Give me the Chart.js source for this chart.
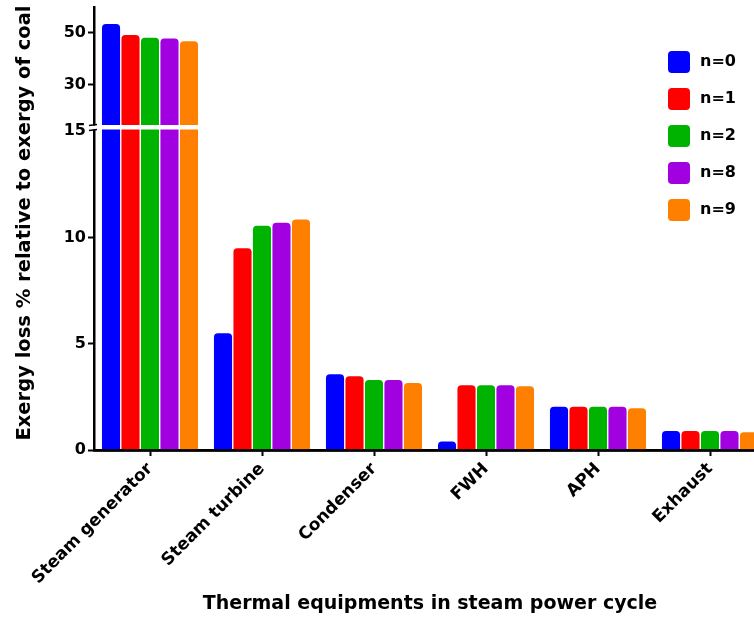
<!DOCTYPE html>
<html><head><meta charset="utf-8">
<script src="https://cdn.jsdelivr.net/npm/chart.js@4.4.1/dist/chart.umd.min.js"></script>
<style>
html,body{margin:0;padding:0;background:#fff;overflow:hidden;width:754px;height:621px}
#wrap{position:absolute;left:0;top:0;width:770px;height:621px}
</style>
</head><body><div id="wrap"><canvas id="c" width="770" height="621"></canvas></div>
<script>
// ---- data ----
const categories = ['Steam generator', 'Steam turbine', 'Condenser', 'FWH', 'APH', 'Exhaust'];
const seriesLabels = ['n=0', 'n=1', 'n=2', 'n=8', 'n=9'];
const n0 = [53.5, 5.5, 3.56, 0.4, 2.03, 0.89];
const n1 = [49.2, 9.5, 3.47, 3.05, 2.03, 0.89];
const n2 = [48.2, 10.55, 3.3, 3.05, 2.03, 0.89];
const n8 = [47.9, 10.7, 3.3, 3.05, 2.03, 0.89];
const n9 = [46.8, 10.85, 3.15, 3.0, 1.97, 0.83];
const seriesColors = ['#0000ff', '#ff0000', '#00b300', '#a100e0', '#ff8000'];
const lowerTicks = [0, 5, 10, 15];
const upperTicks = [30, 50];
const yTitle = 'Exergy loss % relative to exergy of coal';
const xTitle = 'Thermal equipments in steam power cycle';

// ---- broken-axis segment limits ----
const LOW_MAX = 15.18, UP_MIN = 13.65, UP_MAX = 60;
const FONT = '"DejaVu Sans", sans-serif';
const R = 4;

const seriesData = [n0, n1, n2, n8, n9];
const datasets = [];
seriesData.forEach((vals, i) => {
  const common = {
    stack: 's' + i,
    backgroundColor: seriesColors[i],
    borderWidth: 0,
    categoryPercentage: 0.87,
    barPercentage: 0.93
  };
  datasets.push(Object.assign({
    label: seriesLabels[i],
    yAxisID: 'yLow',
    data: vals.map(v => Math.min(v, LOW_MAX)),
    borderRadius: c => (c.raw >= LOW_MAX ? 0 : {topLeft: R, topRight: R, bottomLeft: 0, bottomRight: 0})
  }, common));
  datasets.push(Object.assign({
    label: seriesLabels[i] + ' upper',
    yAxisID: 'yHigh',
    data: vals.map(v => (v > LOW_MAX ? [UP_MIN, v] : null)),
    borderRadius: {topLeft: R, topRight: R, bottomLeft: 0, bottomRight: 0}
  }, common));
});

const tickFont = {family: FONT, weight: 'bold', size: 16};
const fitY = s => { s.width = 94; s.paddingTop = 0; s.paddingBottom = 0; };

const extras = {
  id: 'extras',
  afterDatasetsDraw(chart) {
    const {ctx, chartArea} = chart;
    const b = chart.scales.yHigh.bottom;
    ctx.save();
    ctx.fillStyle = '#fff';
    ctx.fillRect(chartArea.left + 1.5, b - 2.5, chartArea.right - chartArea.left, 4.5);
    // x axis line
    ctx.strokeStyle = '#000';
    ctx.lineWidth = 2.5;
    ctx.beginPath();
    ctx.moveTo(chartArea.left - 1, chartArea.bottom + 0.5);
    ctx.lineTo(chartArea.right + 4, chartArea.bottom + 0.5);
    ctx.stroke();
    ctx.restore();
  },
  afterDraw(chart) {
    const {ctx, chartArea} = chart;
    const b = chart.scales.yHigh.bottom;
    const x = chartArea.left;
    ctx.save();
    ctx.fillStyle = '#fff';
    ctx.fillRect(x - 2, b - 2, 4, 4);
    ctx.strokeStyle = '#000';
    ctx.lineWidth = 1.6;
    ctx.beginPath();
    ctx.moveTo(x - 5, b - 2); ctx.lineTo(x + 3, b - 3);
    ctx.moveTo(x - 5, b + 3); ctx.lineTo(x + 3, b + 2);
    ctx.stroke();
    // y title
    ctx.save();
    ctx.translate(25, 223);
    ctx.rotate(-Math.PI / 2);
    ctx.fillStyle = '#000';
    ctx.font = 'bold 19.5px ' + FONT;
    ctx.textAlign = 'center';
    ctx.textBaseline = 'middle';
    ctx.fillText(yTitle, 0, 0);
    ctx.restore();
    // legend
    ctx.font = 'bold 16px ' + FONT;
    ctx.textBaseline = 'middle';
    ctx.textAlign = 'left';
    seriesLabels.forEach((lab, i) => {
      const cy = 62 + 37 * i;
      ctx.fillStyle = seriesColors[i];
      ctx.beginPath();
      ctx.roundRect(668, cy - 11, 22, 22, 4);
      ctx.fill();
      ctx.fillStyle = '#000';
      ctx.fillText(lab, 700, cy);
    });
    ctx.restore();
  }
};

new Chart(document.getElementById('c'), {
  type: 'bar',
  data: {labels: categories, datasets},
  options: {
    responsive: false,
    animation: false,
    layout: {padding: {top: 7, right: 4, left: 0, bottom: 0}},
    plugins: {legend: {display: false}, tooltip: {enabled: false}},
    scales: {
      x: {
        type: 'category',
        afterFit: s => { s.height = 171; },
        border: {display: true, color: '#000', width: 2.5},
        grid: {display: true, drawOnChartArea: false, drawTicks: true, offset: false, tickLength: 6, tickWidth: 2, tickColor: '#000'},
        ticks: {color: '#000', font: {family: FONT, weight: 'bold', size: 17}, minRotation: 45, maxRotation: 45, autoSkip: false, padding: 3},
        title: {display: true, text: xTitle, color: '#000', font: {family: FONT, weight: 'bold', size: 19}, padding: {top: 0, bottom: 6}}
      },
      yLow: {
        type: 'linear', position: 'left', stack: 'yaxis', stackWeight: 322.5,
        min: 0, max: LOW_MAX,
        afterBuildTicks: s => { s.ticks = lowerTicks.map(v => ({value: v})); },
        afterFit: fitY,
        border: {display: true, color: '#000', width: 2.5},
        grid: {display: true, drawOnChartArea: false, drawTicks: true, tickLength: 6, tickWidth: 2,
               tickColor: c => (c.tick && c.tick.value === 15 ? 'rgba(0,0,0,0)' : '#000')},
        ticks: {color: '#000', font: tickFont, padding: 2}
      },
      yHigh: {
        type: 'linear', position: 'left', stack: 'yaxis', stackWeight: 120.5,
        min: UP_MIN, max: UP_MAX,
        afterBuildTicks: s => { s.ticks = upperTicks.map(v => ({value: v})); },
        afterFit: fitY,
        border: {display: true, color: '#000', width: 2.5},
        grid: {display: true, drawOnChartArea: false, drawTicks: true, tickLength: 6, tickWidth: 2, tickColor: '#000'},
        ticks: {color: '#000', font: tickFont, padding: 2}
      }
    }
  },
  plugins: [extras]
});
</script>
</body></html>
